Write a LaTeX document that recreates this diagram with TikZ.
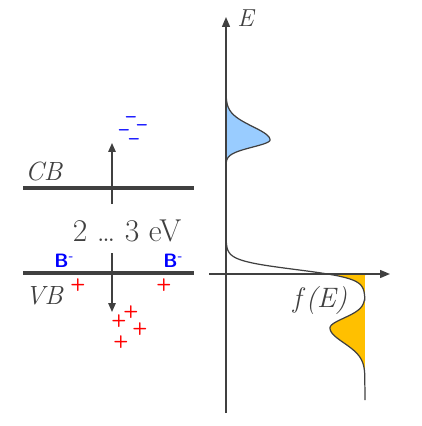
\documentclass[tikz,border=0pt]{standalone}
\usepackage{fontspec}
\usepackage{tikz}
\usetikzlibrary{arrows.meta,positioning}
\definecolor{linegray}{HTML}{404040}
\definecolor{cbblue}{HTML}{99CCFF}
\definecolor{vborange}{HTML}{FFC000}

\begin{document}
\begin{tikzpicture}[
            x=0.02cm, y=-0.02cm,
            band/.style={draw=linegray, line width=1.9pt},
            arrow/.style={-{Triangle[length=1.8mm, width=1.5mm]}, draw=linegray, line width=0.8pt},
            axis/.style={-{Triangle[length=2mm, width=1.6mm]}, draw=linegray, line width=0.8pt},
            curve/.style={draw=linegray, line width=0.7pt},
            lbl/.style={inner sep=0pt, anchor=base west, text=linegray},
            dopant/.style={inner sep=0pt, anchor=base west, text=blue, font=\sffamily\bfseries\fontsize{11}{12}\selectfont},
            hole/.style={inner sep=0pt, text=red, font=\sffamily\bfseries\fontsize{10}{11}\selectfont},
            electron/.style={inner sep=0pt, text height=0.32em, text depth=-0.18em, text=blue, font=\sffamily\bfseries\fontsize{10.5}{12}\selectfont}
        ]
        \useasboundingbox (0,0) rectangle (422,426);
        % band diagram
        \coordinate (cbL) at (23,188);
        \coordinate (cbR) at (194,188);
        \coordinate (vbL) at (23,273);
        \coordinate (vbR) at (194,273);
        \coordinate (upStart) at (112,204);
        \coordinate (upTip) at (112,143);
        \coordinate (downStart) at (112,253);
        \coordinate (downTip) at (112,312);
        \draw[band] (cbL) -- (cbR);
        \draw[band] (vbL) -- (vbR);
        \draw[arrow] (upStart) -- (upTip);
        \draw[arrow] (downStart) -- (downTip);
        \node[lbl, font=\itshape\fontsize{15}{17}\selectfont] (cb) at (25,180) {CB};
        \node[lbl, font=\itshape\fontsize{15}{17}\selectfont] (vb) at (25,304) {VB};
        \node[inner sep=0pt, anchor=base, text=linegray, font=\fontsize{18}{20}\selectfont] (gap) at (127,241) {2 \ldots\ 3 eV};
        \node[dopant] (dopA) at (54,267) {B\textsuperscript{-}};
        \node[dopant] (dopB) at (163,267) {B\textsuperscript{-}};
        % charge carriers
        \node[electron] (eA) at (131,120) {--};
        \node[electron] (eB) at (142,128) {--};
        \node[electron] (eC) at (124,133) {--};
        \node[electron] (eD) at (134,142) {--};
        \node[hole] (hA) at (78,285) {+};
        \node[hole] (hB) at (164,285) {+};
        \node[hole] (hC) at (131,312) {+};
        \node[hole] (hD) at (119,321) {+};
        \node[hole] (hE) at (140,329) {+};
        \node[hole] (hF) at (121,342) {+};
        % occupation
        \fill[cbblue] plot[domain=97:163, samples=80] ({226+44*exp(-((\x-140)/(\x<140?19:10))^2)}, \x) -- cycle;
        \fill[vborange] plot[domain=274:300, samples=40] ({226+139/(1+exp(-(\x-269.5)/4.5))}, \x)
            -- plot[domain=300:375, samples=80] ({365-35*exp(-((\x-328)/(\x<328?14:21))^2)}, \x)
            -- (365,274) -- cycle;
        \coordinate (eBot) at (226,413);
        \coordinate (eTop) at (226,17);
        \coordinate (fLeft) at (209,274);
        \coordinate (fRight) at (390,274);
        \draw[axis] (eBot) -- (eTop);
        \draw[axis] (fLeft) -- (fRight);
        \draw[curve] plot[domain=97:163, samples=80] ({226+44*exp(-((\x-140)/(\x<140?19:10))^2)}, \x);
        \draw[curve] plot[domain=230:300, samples=80] ({226+139/(1+exp(-(\x-269.5)/4.5))}, \x)
            -- plot[domain=300:375, samples=80] ({365-35*exp(-((\x-328)/(\x<328?14:21))^2)}, \x)
            -- (365,400);
        \node[lbl, font=\itshape\fontsize{14}{16}\selectfont] (elbl) at (237,27) {E};
        \node[inner sep=0pt, anchor=base, text=linegray, font=\itshape\fontsize{16}{18}\selectfont] (flbl) at (320,307) {f\,(E)};
\end{tikzpicture}
\end{document}
